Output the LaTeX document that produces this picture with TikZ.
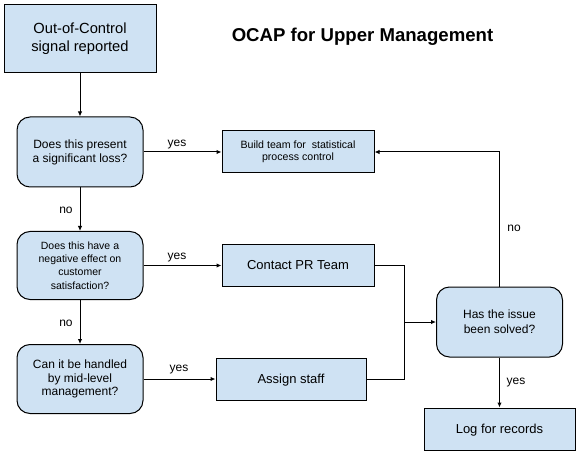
\documentclass[tikz,border=0pt]{standalone}
\usepackage{fontspec}
\setmainfont{Liberation Sans}
\usetikzlibrary{arrows.meta}
\definecolor{boxfill}{HTML}{CFE2F3}
\tikzset{
  base/.style={draw=black, fill=boxfill, line width=1pt, align=center, inner sep=0pt},
  rectbox/.style={base, minimum width=#1, minimum height=42pt},
  decbox/.style={base, rounded corners=13pt, minimum width=126pt, minimum height=69pt},
  conn/.style={line width=1pt, -{Latex[length=5pt,width=4.5pt]}},
  plainline/.style={line width=1pt},
  lbl/.style={font=\fontsize{12}{14}\selectfont, inner sep=0pt}
}
\begin{document}
\begin{tikzpicture}[x=1pt,y=-1pt]
\useasboundingbox (0,0) rectangle (581,457);
\node[base, minimum width=152pt, minimum height=68pt, font=\fontsize{14.7}{18}\selectfont] (start) at (80,39) {Out-of-Control\\signal reported};
\node[font=\bfseries\fontsize{18.6}{22}\selectfont, inner sep=0pt] (title) at (362.5,37) {OCAP for Upper Management};
\node[decbox, minimum height=70pt, font=\fontsize{12}{14}\selectfont] (d1) at (80,152) {Does this present\\a significant loss?};
\node[decbox, minimum height=68pt, font=\fontsize{10.5}{13.2}\selectfont] (d2) at (80,265.5) {Does this have a\\negative effect on\\customer\\satisfaction?};
\node[decbox, font=\fontsize{12}{13.3}\selectfont] (d3) at (80,379) {Can it be handled\\by mid-level\\management?};
\node[rectbox=152pt, font=\fontsize{10.6}{12.3}\selectfont] (build) at (298,152) {Build team for\ \ statistical\\process control};
\node[rectbox=152pt, font=\fontsize{13}{15}\selectfont, text height=11pt, text depth=3pt] (pr) at (298,265.5) {Contact PR Team};
\node[rectbox=150pt, font=\fontsize{13}{15}\selectfont, text height=11pt, text depth=3pt] (staff) at (291,379) {Assign staff};
\node[decbox, minimum height=70pt, font=\fontsize{12}{15}\selectfont] (solved) at (499.5,322) {Has the issue\\been solved?};
\node[rectbox=151pt, font=\fontsize{13}{15}\selectfont, text height=11pt, text depth=3pt] (log) at (499.5,429) {Log for records};
\coordinate (join) at (404,322);

\draw[conn] (start) -- (d1);
\draw[conn] (d1) -- (d2);
\draw[conn] (d2) -- (d3);
\draw[conn] (d1) -- (build);
\draw[conn] (d2) -- (pr);
\draw[conn] (d3) -- (staff);
\draw[plainline] (pr.east) -| (join);
\draw[plainline] (staff.east) -| (join);
\draw[conn] (join) -- (solved.west);
\draw[conn] (solved.north) |- (build.east);
\draw[conn] (solved) -- (log);

\node[lbl] (l1) at (177,145) {yes};
\node[lbl] (l2) at (177,258) {yes};
\node[lbl] (l3) at (179,370) {yes};
\node[lbl] (l4) at (66,210) {no};
\node[lbl] (l5) at (66,323) {no};
\node[lbl] (l6) at (514,228) {no};
\node[lbl] (l7) at (516,383) {yes};
\end{tikzpicture}
\end{document}
